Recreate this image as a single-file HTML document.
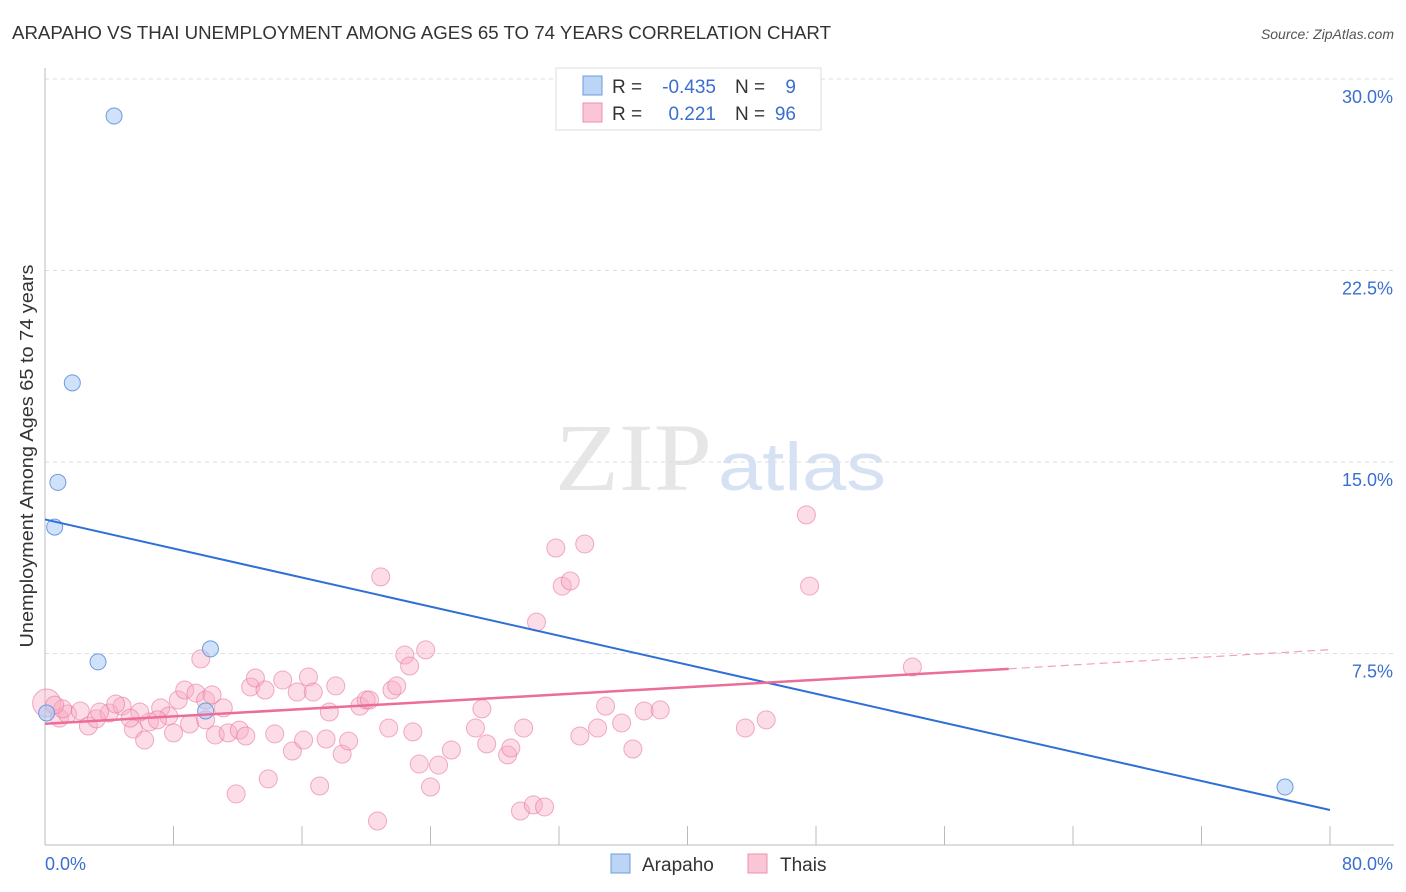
<!DOCTYPE html>
<html><head><meta charset="utf-8"><style>
body{margin:0;background:#fff;font-family:"Liberation Sans",sans-serif}
svg{display:block}
</style></head><body>
<svg id="c" width="1406" height="892">
<text x="12" y="39" font-size="18" fill="#333" textLength="819" lengthAdjust="spacingAndGlyphs">ARAPAHO VS THAI UNEMPLOYMENT AMONG AGES 65 TO 74 YEARS CORRELATION CHART</text>
<text x="1394" y="39" font-size="14" fill="#555" font-style="italic" text-anchor="end">Source: ZipAtlas.com</text>
<text x="33" y="456" font-size="18" fill="#333" text-anchor="middle" textLength="383" lengthAdjust="spacingAndGlyphs" transform="rotate(-90 33 456)">Unemployment Among Ages 65 to 74 years</text>
<text x="555" y="490" font-size="96" fill="#e6e6e6" font-family="Liberation Serif,serif" textLength="157" lengthAdjust="spacingAndGlyphs">ZIP</text>
<text x="718" y="490" font-size="68" fill="#d6e2f3" textLength="168" lengthAdjust="spacingAndGlyphs">atlas</text>
<g id="grid"></g><g id="axes"></g><g id="pts"></g><g id="lines"></g>
<g>
<rect x="556" y="68" width="265" height="62" fill="#fff" stroke="#ddd"/>
<rect x="583" y="76" width="19" height="19" fill="#bcd5f5" stroke="#6b9be0"/>
<rect x="583" y="103" width="19" height="19" fill="#fac6d6" stroke="#ee8fae"/>
<text x="612" y="93" font-size="19" fill="#333">R =</text>
<text x="716" y="93" font-size="19" fill="#3a6fd0" text-anchor="end">-0.435</text>
<text x="735" y="93" font-size="19" fill="#333">N =</text>
<text x="796" y="93" font-size="19" fill="#3a6fd0" text-anchor="end">9</text>
<text x="612" y="120" font-size="19" fill="#333">R =</text>
<text x="716" y="120" font-size="19" fill="#3a6fd0" text-anchor="end">0.221</text>
<text x="735" y="120" font-size="19" fill="#333">N =</text>
<text x="796" y="120" font-size="19" fill="#3a6fd0" text-anchor="end">96</text>
</g>
<g>
<rect x="611" y="854" width="19" height="19" fill="#bcd5f5" stroke="#6b9be0"/>
<text x="642" y="871" font-size="19" fill="#333">Arapaho</text>
<rect x="748" y="854" width="19" height="19" fill="#fac6d6" stroke="#ee8fae"/>
<text x="780" y="871" font-size="19" fill="#333">Thais</text>
</g>
</svg>
<script>
const yTicks=[7.5,15,22.5,30];
const yTickLabels=["7.5%","15.0%","22.5%","30.0%"];
const xTicks=[0,8,16,24,32,40,48,56,64,72,80];
const arapahoX=[4.3,1.7,0.8,0.6,3.3,10.3,10.0,0.1,77.2];
const arapahoY=[28.55,18.1,14.2,12.45,7.17,7.68,5.25,5.17,2.27];
const thaiX=[0.1,0.9,1.4,2.7,3.2,1.1,2.2,4.0,4.8,5.5,6.2,6.5,7.2,7.7,8.0,8.3,8.7,9.0,9.4,9.7,10.0,10.4,10.6,11.1,11.4,11.9,12.1,12.5,12.8,13.1,13.7,13.9,14.3,14.8,15.4,15.7,16.1,16.4,16.7,17.1,17.5,17.7,18.1,18.5,18.9,19.6,20.0,20.2,20.7,20.9,21.4,21.6,21.9,22.4,22.7,22.9,23.3,23.7,24.0,24.5,25.3,26.8,27.2,27.5,28.8,29.0,29.6,29.8,30.4,30.6,31.1,31.8,32.2,32.7,33.6,33.3,34.4,34.9,35.9,36.6,37.3,38.3,43.6,44.9,47.4,47.6,54.0,0.6,3.4,5.9,4.4,5.3,7.0,10.0];
const thaiY=[5.56,4.97,5.13,4.66,4.94,5.33,5.25,5.17,5.44,4.54,4.11,4.82,5.37,5.05,4.39,5.68,6.07,4.74,5.95,7.29,5.68,5.88,4.31,5.37,4.39,2.0,4.5,4.27,6.19,6.54,6.07,2.59,4.35,6.46,3.68,5.99,4.11,6.58,5.99,2.31,4.15,5.21,6.23,3.56,4.07,5.44,5.68,5.68,0.94,10.5,4.58,6.07,6.23,7.44,7.01,4.43,3.17,7.64,2.27,3.13,3.72,4.58,5.33,3.96,3.53,3.8,1.33,4.58,1.57,8.73,1.49,11.63,10.14,10.34,11.79,4.27,4.58,5.44,4.78,3.76,5.25,5.29,4.58,4.9,12.93,10.14,6.97,5.48,5.21,5.21,5.52,4.97,4.9,4.9];
const blueTrendX=[0,80];const blueTrendY=[12.75,1.37];
const pinkTrendX=[0,60,80];const pinkTrendY=[4.75,6.9,7.65];
const X=v=>45+v/80*1285, Y=v=>845-v/30*766;
const NS="http://www.w3.org/2000/svg";
function mk(t,a,p){const e=document.createElementNS(NS,t);for(const k in a)e.setAttribute(k,a[k]);document.getElementById(p).appendChild(e);return e;}
yTicks.forEach((t,i)=>{
 const l=mk('line',{x1:45,x2:1394,y1:Y(t),y2:Y(t),stroke:'#ddd','stroke-dasharray':'4,4'},'grid');
 
 
 const tx=mk('text',{x:1393,y:Y(t)+24,'font-size':18,fill:'#3a6fd0','text-anchor':'end'},'grid');tx.textContent=yTickLabels[i];
 
 
});
const ax=mk('line',{x1:45,x2:1394,y1:845,y2:845,stroke:'#bbb'},'axes');


const ay=mk('line',{x1:45,x2:45,y1:68,y2:845,stroke:'#bbb'},'axes');


xTicks.forEach(t=>{const l=mk('line',{x1:X(t),x2:X(t),y1:826,y2:845,stroke:'#bbb'},'axes');
 
 });
const t0=mk('text',{x:45,y:870,'font-size':18,fill:'#3a6fd0'},'axes');t0.textContent='0.0%';


const t1=mk('text',{x:1393,y:870,'font-size':18,fill:'#3a6fd0','text-anchor':'end'},'axes');t1.textContent='80.0%';


thaiX.forEach((v,i)=>{const c=mk('circle',{cx:X(v),cy:Y(thaiY[i]),r:i==0?14:9,fill:'rgba(248,170,195,0.4)',stroke:'rgba(232,120,160,0.6)'},'pts');
 
 });
arapahoX.forEach((v,i)=>{const c=mk('circle',{cx:X(v),cy:Y(arapahoY[i]),r:8,fill:'rgba(170,200,245,0.55)',stroke:'#6b9be0'},'pts');
 
 });
const bl=mk('line',{x1:X(blueTrendX[0]),y1:Y(blueTrendY[0]),x2:X(blueTrendX[1]),y2:Y(blueTrendY[1]),stroke:'#2f6fd6','stroke-width':2},'lines');


const pl=mk('line',{x1:X(pinkTrendX[0]),y1:Y(pinkTrendY[0]),x2:X(pinkTrendX[1]),y2:Y(pinkTrendY[1]),stroke:'#ec6d98','stroke-width':2.5},'lines');


const pd=mk('line',{x1:X(pinkTrendX[1]),y1:Y(pinkTrendY[1]),x2:X(pinkTrendX[2]),y2:Y(pinkTrendY[2]),stroke:'#f0a0bb','stroke-width':1.2,'stroke-dasharray':'8,5'},'lines');


</script>
</body></html>
